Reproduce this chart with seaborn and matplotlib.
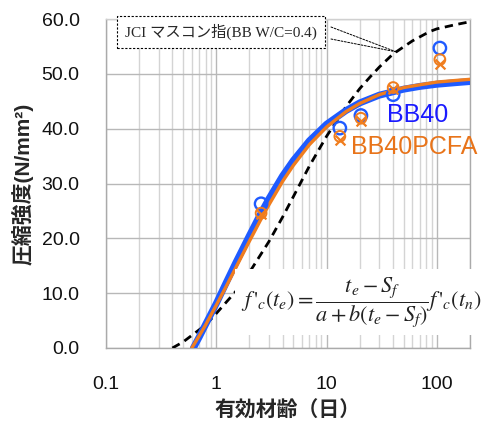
import numpy as np
import pandas as pd
import matplotlib
matplotlib.use("Agg")
import matplotlib.pyplot as plt
import seaborn as sns
from matplotlib.ticker import NullFormatter, LogLocator

# ---- data ----
curve_age = [0.62, 0.7, 0.8, 1.0, 1.25, 1.5, 2.0, 2.5, 3.0, 4.0, 5.0, 7.0, 10, 15, 20, 30, 50, 70, 100, 150, 200]
bb40_curve = [0.0, 2.0, 4.3, 8.1, 12.2, 15.5, 20.5, 24.3, 27.2, 31.4, 34.2, 37.8, 40.8, 43.3, 44.7, 46.1, 47.2, 47.7, 48.1, 48.4, 48.6]
pcfa_age = [0.6, 0.7, 0.8, 1.0, 1.25, 1.5, 2.0, 2.5, 3.0, 4.0, 5.0, 7.0, 10, 15, 20, 30, 50, 70, 100, 150, 200]
pcfa_curve = [0.0, 2.2, 4.2, 7.8, 11.5, 14.6, 19.5, 23.2, 26.1, 30.4, 33.3, 37.1, 40.3, 43.1, 44.6, 46.2, 47.5, 48.0, 48.5, 48.8, 49.0]
jci_age = [0.4, 0.5, 0.6, 0.8, 1.0, 1.5, 2.0, 3.0, 4.0, 5.0, 7.0, 10, 15, 20, 25, 30, 40, 60, 86, 100, 150, 200]
jci_curve = [0.0, 1.1, 2.3, 4.2, 6.3, 10.3, 13.8, 19.4, 23.9, 27.6, 33.2, 38.6, 44.0, 47.3, 49.5, 51.2, 53.6, 56.0, 57.7, 58.2, 59.0, 59.5]

test_age = [2.55, 13.2, 20.5, 40.2, 106.6]
bb40_test = [26.3, 40.1, 42.4, 46.2, 54.7]
pcfa_test_a = [24.6, 38.6, 41.9, 47.5, 52.6]
pcfa_test_b = [24.4, 38.0, 41.4, 47.3, 51.8]

xticks = [0.1, 1, 10, 100]
xtick_labels = ["0.1", "1", "10", "100"]
yticks = [0, 10, 20, 30, 40, 50, 60]
ytick_labels = ["0.0", "10.0", "20.0", "30.0", "40.0", "50.0", "60.0"]

BLUE = "#1f5bff"
ORANGE = "#f07d1e"
TXT_BLUE = "#1a1aff"
TXT_ORANGE = "#e8741a"

sns.set_style("white")
plt.rcParams['font.family'] = ['Liberation Sans', 'Noto Sans CJK JP']
plt.rcParams['mathtext.fontset'] = 'stix'

fig = plt.figure(figsize=(4.94, 4.28), dpi=100)
ax = fig.add_axes([106/494, 80/428, 364/494, 329/428])

ax.set_xscale('log')
ax.set_xlim(0.1, 200)
ax.set_ylim(0, 60)

# grid
ax.xaxis.set_minor_locator(LogLocator(base=10, subs=np.arange(2, 10)))
ax.xaxis.set_minor_formatter(NullFormatter())
ax.grid(which='major', axis='both', color='#b8b8b8', linewidth=1.0)
ax.grid(which='minor', axis='x', color='#d4d4d4', linewidth=1.0)
ax.set_axisbelow(True)

df_b = pd.DataFrame({"age": curve_age, "fc": bb40_curve})
df_o = pd.DataFrame({"age": pcfa_age, "fc": pcfa_curve})
df_j = pd.DataFrame({"age": jci_age, "fc": jci_curve})

sns.lineplot(data=df_j, x="age", y="fc", ax=ax, color="black", linewidth=2.0,
             linestyle=(0, (3, 2)), zorder=3)
sns.lineplot(data=df_b, x="age", y="fc", ax=ax, color=BLUE, linewidth=5.0, zorder=4)
sns.lineplot(data=df_o, x="age", y="fc", ax=ax, color=ORANGE, linewidth=2.4, zorder=5)

sns.scatterplot(x=test_age, y=bb40_test, ax=ax, marker='o', s=80, facecolor='none',
                edgecolor=BLUE, linewidth=1.7, zorder=6)
sns.scatterplot(x=test_age, y=pcfa_test_a, ax=ax, marker='o', s=60, facecolor='none',
                edgecolor=ORANGE, linewidth=1.4, zorder=7)
sns.scatterplot(x=test_age, y=pcfa_test_b, ax=ax, marker='x', s=50, color=ORANGE,
                linewidth=1.6, zorder=7)

ax.set_xticks(xticks)
ax.set_xticklabels(xtick_labels, fontsize=14, color='#111111')
ax.set_yticks(yticks)
ax.set_yticklabels(ytick_labels, fontsize=14, color='#111111')
ax.tick_params(axis='both', which='major', length=6, width=1, color='#999999', direction='out')
ax.tick_params(axis='y', which='major', pad=13)
ax.tick_params(axis='x', which='minor', length=0)
ax.tick_params(axis='x', which='major', pad=14)
for s in ax.spines.values():
    s.set_color('#aaaaaa')
    s.set_linewidth(1.0)
ax.spines['top'].set_color('#d0d0d0')

ax.set_xlabel("有効材齢（日）", fontsize=15, fontweight='bold', labelpad=6)
ax.set_ylabel("圧縮強度(N/mm²)", fontsize=15, fontweight='bold', labelpad=6,
              family=['Liberation Sans', 'Noto Sans CJK JP'])

# series labels
ax.text(387/494, 1 - 122/428, "BB40", transform=fig.transFigure, color=TXT_BLUE,
        fontsize=18, ha='left', va='baseline', zorder=10)
ax.text(351/494, 1 - 154/428, "BB40PCFA", transform=fig.transFigure, color=TXT_ORANGE,
        fontsize=18, ha='left', va='baseline', zorder=10, clip_on=False)

# formula
ax.text(361/494, 1 - 302/428,
        r"$f\,'_{c}(t_e)=\dfrac{t_e-S_f}{a+b(t_e-S_f)}f\,'_{c}(t_n)$",
        transform=fig.transFigure, fontsize=16, ha='center', va='center', color='#222222',
        bbox=dict(boxstyle='square,pad=0.25', facecolor='white', edgecolor='none'), zorder=9)

# JCI callout
ann_txt = "JCI マスコン指(BB W/C=0.4)"
fig.text(221/494, 1 - 32/428, ann_txt, fontsize=11, ha='center', va='center',
         family=['Liberation Serif', 'Noto Sans CJK JP'], zorder=12,
         bbox=dict(boxstyle='square,pad=0.5', facecolor='white', edgecolor='black',
                   linestyle=(0, (2, 1.5)), linewidth=0.8))
for yfrac in (1 - 27/428, 1 - 39/428):
    ax.annotate("", xy=(43, 54.0), xycoords='data', xytext=(331/494, yfrac),
                textcoords='figure fraction',
                arrowprops=dict(arrowstyle='-', color='black', linewidth=0.7,
                                linestyle=(0, (2, 1.5)), shrinkA=0, shrinkB=0), zorder=11)

fig.savefig("out.png", dpi=100)
